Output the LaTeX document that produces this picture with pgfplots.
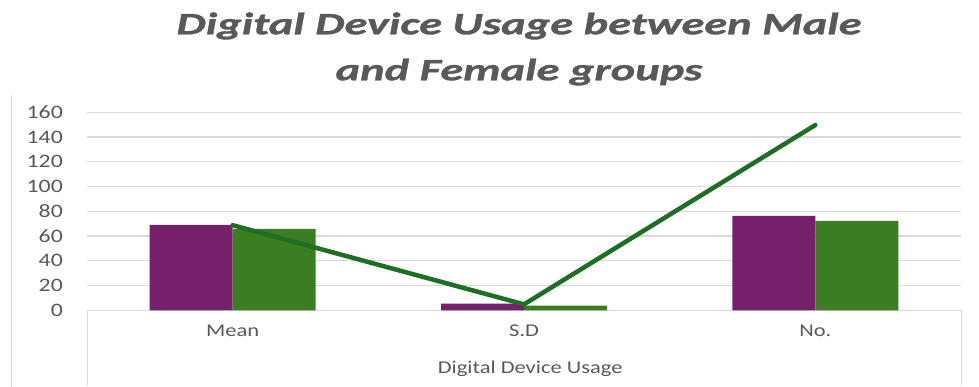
\documentclass[border=0pt]{standalone}
\usepackage{pgfplots}
\pgfplotsset{compat=1.18}
\usepackage{fontspec}
\setmainfont{Carlito}[FakeStretch=1.25]
\newfontfamily\titlefont{Carlito}[FakeStretch=1.5, FakeBold=1.2]
\definecolor{barpurple}{RGB}{118,31,106}
\definecolor{bargreen}{RGB}{58,125,34}
\definecolor{linegreen}{RGB}{30,110,36}
\definecolor{gridgray}{RGB}{217,217,217}
\definecolor{txtgray}{RGB}{89,89,89}
\begin{document}
\begin{tikzpicture}
\useasboundingbox (0,0) rectangle (979pt,387pt);
\draw[gridgray, line width=1pt] (11pt,0) -- (11pt,292pt);
\node[txtgray, font=\titlefont\fontsize{31}{46}\selectfont\bfseries\itshape, align=center, anchor=north] at (519pt,378pt)
  {Digital Device Usage between Male\\and Female groups};
\begin{axis}[
  at={(87pt,76.7pt)}, anchor=south west,
  scale only axis, width=874pt, height=198pt,
  xmin=-0.5, xmax=2.5, ymin=0, ymax=160,
  ytick={0,20,...,160},
  xtick={0,1,2}, xticklabels={Mean,S.D,No.},
  ymajorgrids, grid style={gridgray, line width=1.2pt},
  axis x line*=bottom, axis y line*=left,
  x axis line style={gridgray, line width=1pt, -},
  y axis line style={draw=none},
  major tick length=0pt,
  /pgf/number format/assume math mode=true,
  tick label style={txtgray},
  yticklabel style={font=\fontsize{19}{20}\selectfont, inner sep=0pt, anchor=east, xshift=-24pt},
  xticklabel style={font=\fontsize{18}{20}\selectfont, inner sep=0pt, anchor=center, yshift=-20pt},
  clip=false,
]
\addplot[ybar, bar width=83pt, bar shift=-41.5pt, fill=barpurple, draw=none] coordinates {(0,69) (1,5.3) (2,76.2)};
\addplot[ybar, bar width=83pt, bar shift=41.5pt, fill=bargreen, draw=none] coordinates {(0,65.7) (1,3.7) (2,72.2)};
\addplot[linegreen, line width=4.5pt, line cap=round, line join=miter, mark=none] coordinates {(0,68.8) (1,4.8) (2,149.7)};
\coordinate (ll) at (rel axis cs:0,0);
\coordinate (lr) at (rel axis cs:1,0);
\coordinate (lm) at (rel axis cs:0.507,0);
\end{axis}
\draw[gridgray, line width=1pt] (ll) -- ++(0,-75pt);
\draw[gridgray, line width=1pt] (lr) -- ++(0,-75pt);
\node[txtgray, font=\fontsize{18}{20}\selectfont] at ([yshift=-59pt]lm) {Digital Device Usage};
\end{tikzpicture}
\end{document}
